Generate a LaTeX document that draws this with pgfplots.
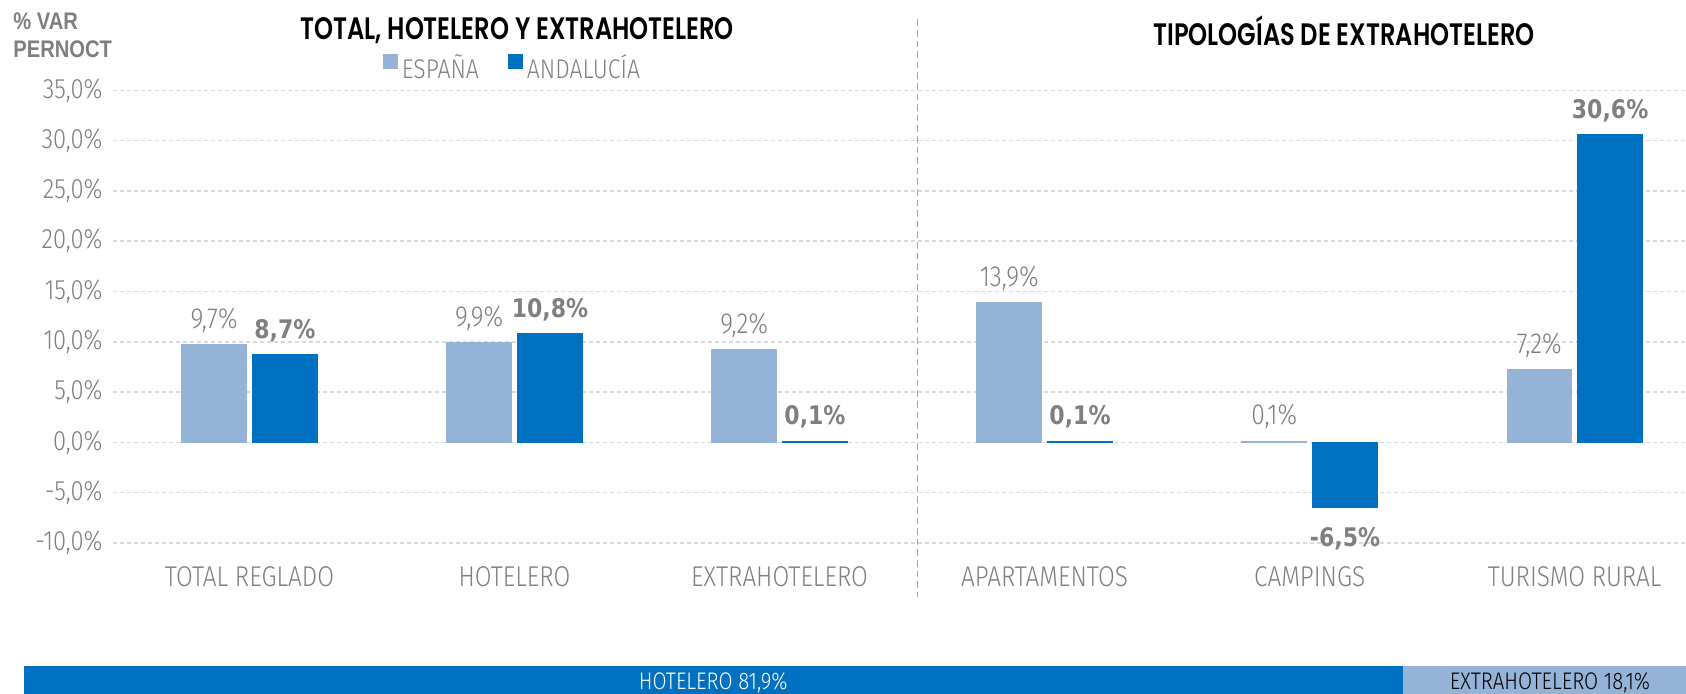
\documentclass[border=0pt]{standalone}
\usepackage{fontspec}
\setmainfont{Fira Sans}[UprightFont={* Light}, BoldFont={* SemiBold}, FakeStretch=0.85]
\newfontfamily\boldfam{DejaVu Sans}[FakeStretch=0.86]
\newfontfamily\titlefam{Poppins SemiBold}[FakeStretch=0.78]
\newfontfamily\varfam{Liberation Sans}[FakeStretch=0.84]
\usepackage{pgfplots}
\pgfplotsset{compat=1.18}
\definecolor{esp}{HTML}{95B3D7}
\definecolor{anda}{HTML}{0070C0}
\definecolor{txtgray}{HTML}{7F7F7F}
\definecolor{gridgray}{HTML}{D9D9D9}
\definecolor{sepgray}{HTML}{A6A6A6}
\newcommand\lightlab{\fontsize{14.5}{16}\selectfont}
\newcommand\boldlab{\boldfam\bfseries\fontsize{12.8}{14}\selectfont}
\begin{document}
\begin{tikzpicture}[x=1pt,y=1pt]
\path[use as bounding box] (0,0) rectangle (843,347);
\begin{axis}[
  at={(56.5pt,75.5pt)}, anchor=south west,
  scale only axis, width=786.5pt, height=226.35pt,
  xmin=-0.515, xmax=5.42, ymin=-10, ymax=35,
  clip=false,
  axis line style={draw=none},
  major tick length=0pt,
  ybar, bar width=32.3pt,
  ytick={-10,-5,...,35},
  ymajorgrids,
  grid style={gridgray, dash pattern=on 2pt off 1.5pt, line width=0.75pt},
  yticklabel={\pgfmathprintnumber[assume math mode=true,fixed,fixed zerofill,precision=1,use comma]{\tick}\%},
  yticklabel style={anchor=east, inner sep=0pt, xshift=-5pt, text=txtgray, font=\fontsize{14}{16}\selectfont},
  xtick={0,1,2,3,4,5},
  xticklabels={TOTAL REGLADO, HOTELERO, EXTRAHOTELERO, APARTAMENTOS, CAMPINGS, TURISMO RURAL},
  xticklabel style={anchor=base, inner sep=0pt, yshift=-22pt, text=txtgray, font=\fontsize{14.3}{16}\selectfont},
  legend style={at={(0.2546,1.049)}, anchor=center, draw=none, fill=none,
    legend columns=2, font=\fontsize{13.5}{15}\selectfont, text=txtgray,
    /tikz/every even column/.append style={column sep=12.5pt},
    /tikz/every odd column/.append style={column sep=0pt}},
  visualization depends on={y \as \rawy},
  nodes near coords={\pgfmathprintnumber[assume math mode=true,fixed,fixed zerofill,precision=1,use comma]{\pgfplotspointmeta}\%},
]
\addplot[fill=esp, draw=esp, line width=0.5pt, bar shift=-17.7pt,
  legend image code/.code={\fill[esp] (0pt,0pt) rectangle (7pt,7pt);},
  every node near coord/.append style={anchor=base, inner sep=0pt, text=txtgray, font=\lightlab,
    yshift={\rawy<0 ? -19.5 : 8.2}}]
  coordinates {(0,9.7) (1,9.9) (2,9.2) (3,13.9) (4,0.1) (5,7.2)};
\addlegendentry{ESPAÑA}
\addplot[fill=anda, draw=anda, line width=0.5pt, bar shift=17.7pt,
  legend image code/.code={\fill[anda] (0pt,0pt) rectangle (7pt,7pt);},
  every node near coord/.append style={anchor=base, inner sep=0pt, text=txtgray, font=\boldlab,
    yshift={\rawy<0 ? -19.5 : 8.2}}]
  coordinates {(0,8.7) (1,10.8) (2,0.1) (3,0.1) (4,-6.5) (5,30.6)};
\addlegendentry{ANDALUCÍA}
\draw[sepgray, dash pattern=on 3.3pt off 2pt, line width=0.75pt] (axis cs:2.52,42.05) -- (axis cs:2.52,-15.37);
\end{axis}
\begin{axis}[
  at={(11.85pt,0pt)}, anchor=south west,
  scale only axis, width=842pt, height=14pt,
  xmin=0, xmax=100, ymin=0, ymax=1,
  hide axis, clip=false,
  xbar stacked, bar width=14pt,
]
\addplot[fill=anda, draw=none] coordinates {(81.9,0.5)};
\addplot[fill=esp, draw=none] coordinates {(18.1,0.5)};
\end{axis}
\node[anchor=base, text=white, font=\fontsize{12}{14}\selectfont, inner sep=0pt] at (356.6,2.2) {HOTELERO 81,9\%};
\node[anchor=base, text=black, font=\fontsize{12}{14}\selectfont, inner sep=0pt] at (775,2.2) {EXTRAHOTELERO 18,1\%};
\node[font=\titlefam\fontsize{15.5}{18}\selectfont] at (258.6,331.5) {TOTAL, HOTELERO Y EXTRAHOTELERO};
\node[font=\titlefam\fontsize{15.5}{18}\selectfont] at (672,331.5) {TIPOLOGÍAS DE EXTRAHOTELERO};
\node[anchor=west, inner sep=0pt, text=txtgray, font=\varfam\bfseries\fontsize{12}{14}\selectfont] at (6.5,336.2) {\% VAR};
\node[anchor=west, inner sep=0pt, text=txtgray, font=\varfam\bfseries\fontsize{12}{14}\selectfont] at (6.5,322.2) {PERNOCT};
\end{tikzpicture}
\end{document}
